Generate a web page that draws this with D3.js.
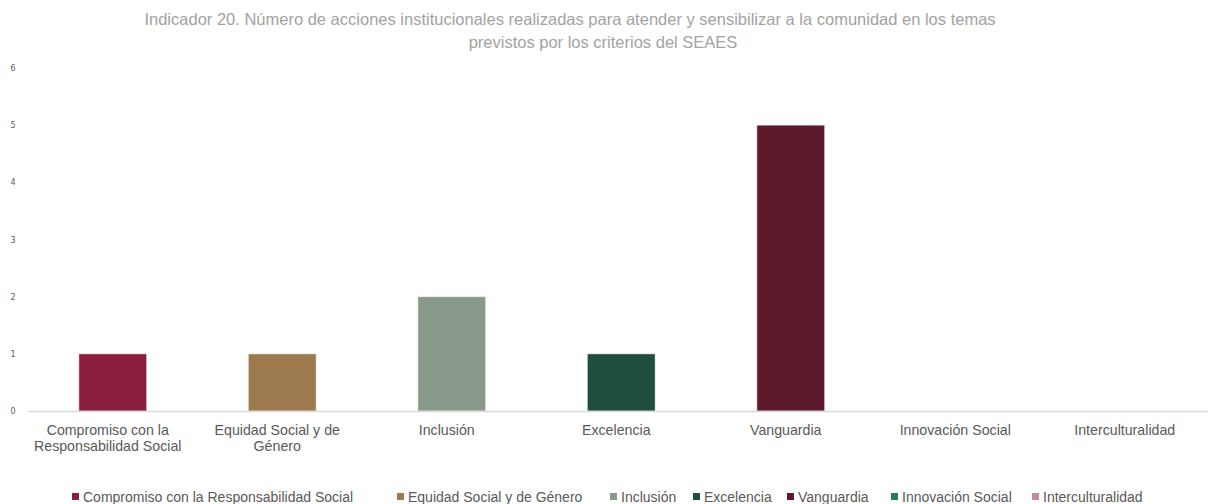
<!DOCTYPE html>
<html>
<head>
<meta charset="utf-8">
<script src="https://cdn.jsdelivr.net/npm/d3@7"></script>
<style>
  body { margin: 0; background: #fff; }
  svg { font-family: "Liberation Sans", Arial, sans-serif; display: block; }
</style>
</head>
<body>
<div id="chart"></div>
<script>
const titleLines = [
  "Indicador 20. Número de acciones institucionales realizadas para atender y sensibilizar a la comunidad en los temas",
  "previstos por los criterios del SEAES"
];
const categories = [
  "Compromiso con la Responsabilidad Social",
  "Equidad Social y de Género",
  "Inclusión",
  "Excelencia",
  "Vanguardia",
  "Innovación Social",
  "Interculturalidad"
];
const categoryLines = [
  ["Compromiso con la", "Responsabilidad Social"],
  ["Equidad Social y de", "Género"],
  ["Inclusión"],
  ["Excelencia"],
  ["Vanguardia"],
  ["Innovación Social"],
  ["Interculturalidad"]
];
const values = [1, 1, 2, 1, 5, 0, 0];
const colors = ["#8b1e3f", "#9c7a4e", "#899a8b", "#1f4e3f", "#5c1a2c", "#2a7a5e", "#c48a96"];
const yTicks = [0, 1, 2, 3, 4, 5, 6];

// legend marker x positions
const legendX = [72, 397, 610, 693, 787, 891, 1032];

const W = 1208, H = 504;
const svg = d3.select("#chart").append("svg").attr("width", W).attr("height", H);

// Title
svg.append("text")
  .attr("x", 570).attr("y", 25)
  .attr("text-anchor", "middle")
  .attr("fill", "#a3a3a3")
  .style("font-size", "16.5px")
  .text(titleLines[0]);
svg.append("text")
  .attr("x", 603).attr("y", 48)
  .attr("text-anchor", "middle")
  .attr("fill", "#a3a3a3")
  .style("font-size", "16.5px")
  .text(titleLines[1]);

// Scales
const x = d3.scaleBand()
  .domain(categories)
  .range([28, 1214.5])
  .paddingInner(0.6)
  .paddingOuter(0.3);

const y = d3.scaleLinear().domain([0, 6]).range([411, 68]);

// Y axis (labels only)
const yAxis = svg.append("g")
  .attr("transform", "translate(13,0)")
  .call(d3.axisLeft(y).tickValues(yTicks).tickSize(0).tickPadding(0).tickFormat(d3.format("d")));
yAxis.select(".domain").remove();
yAxis.selectAll("text")
  .attr("text-anchor", "middle")
  .attr("fill", "#595959")
  .style("font-size", "8px")
  .style("font-family", "'DejaVu Sans', sans-serif");

// Bars
svg.selectAll("rect.bar")
  .data(categories)
  .join("rect")
  .attr("class", "bar")
  .attr("x", d => x(d))
  .attr("y", (d, i) => y(values[i]))
  .attr("width", x.bandwidth())
  .attr("height", (d, i) => y(0) - y(values[i]))
  .attr("fill", (d, i) => colors[i])
  .attr("stroke", "#fff")
  .attr("stroke-opacity", 0.5)
  .attr("stroke-width", 1);

// X axis line
svg.append("line")
  .attr("x1", 28).attr("x2", W)
  .attr("y1", y(0) + 0.5).attr("y2", y(0) + 0.5)
  .attr("stroke", "#d9d9d9")
  .attr("stroke-width", 1.5);

// Category labels
const xl = svg.selectAll("text.cat")
  .data(categories)
  .join("text")
  .attr("class", "cat")
  .attr("text-anchor", "middle")
  .attr("fill", "#595959")
  .style("font-size", "14.2px");
xl.each(function(d, i) {
  const t = d3.select(this);
  categoryLines[i].forEach((line, j) => {
    t.append("tspan")
      .attr("x", x(d) + x.bandwidth() / 2 - 5)
      .attr("y", 435 + j * 16)
      .text(line);
  });
});

// Legend
const lg = svg.selectAll("g.legend")
  .data(categories)
  .join("g")
  .attr("class", "legend")
  .attr("transform", (d, i) => `translate(${legendX[i]},497)`);
lg.append("rect")
  .attr("x", 0).attr("y", -4)
  .attr("width", 7).attr("height", 7)
  .attr("fill", (d, i) => colors[i]);
lg.append("text")
  .attr("x", 11).attr("y", 5)
  .attr("fill", "#595959")
  .style("font-size", "14px")
  .text(d => d);
</script>
</body>
</html>
